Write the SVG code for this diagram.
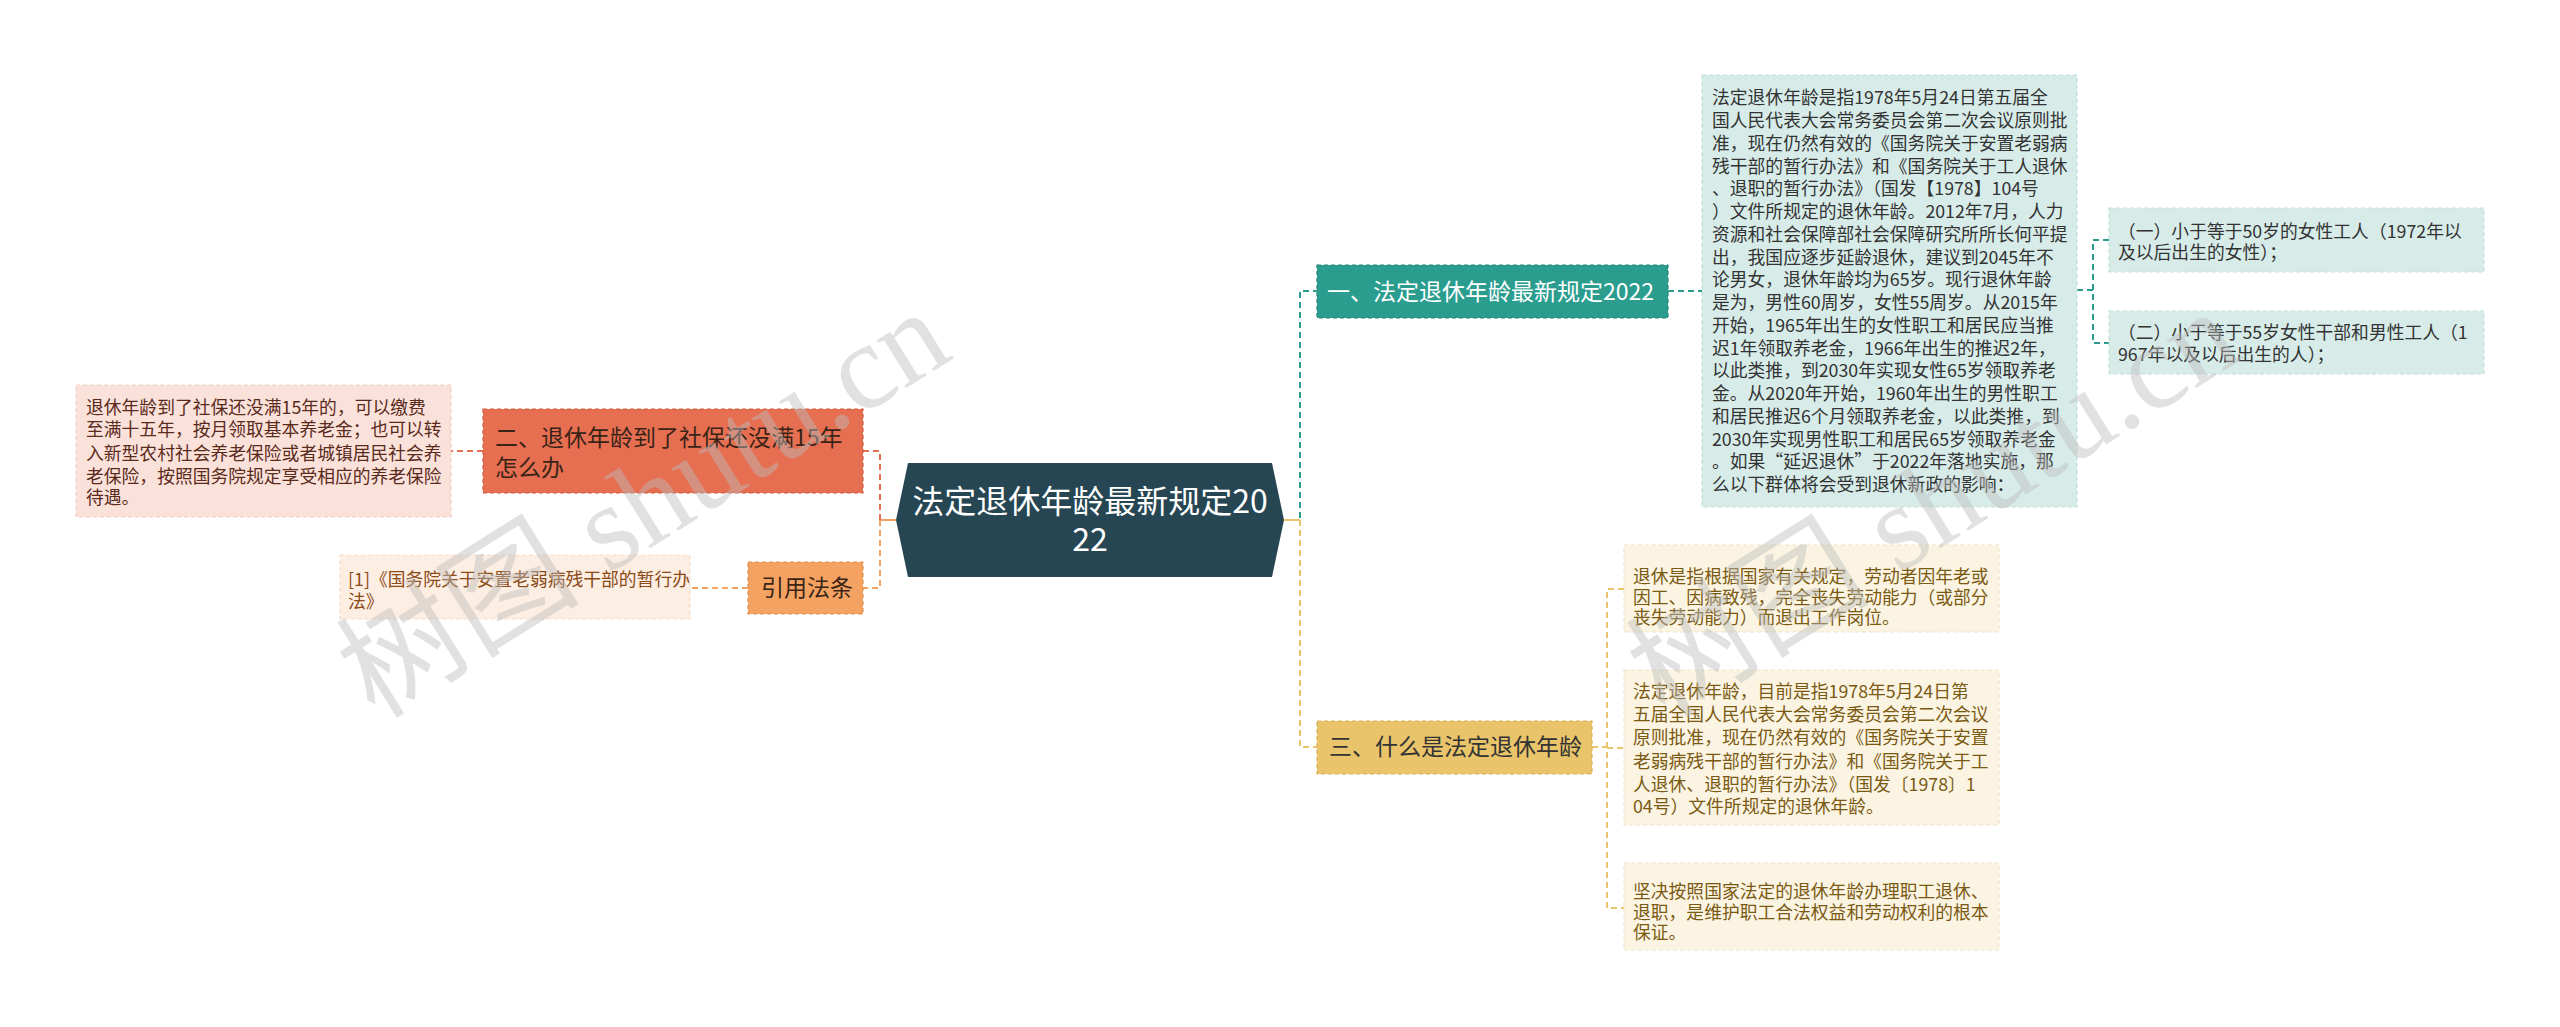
<svg xmlns="http://www.w3.org/2000/svg" width="2560" height="1027" viewBox="0 0 2560 1027">
<style>
text{font-family:"Noto Sans CJK SC","Noto Sans",sans-serif}
.s{font-size:17.8px}
.m{font-size:23px}
.c{stroke-width:2;fill:none;stroke-dasharray:6 4}
.box{stroke-width:1.2;stroke-dasharray:4 3}
.wm{font-size:122px;fill:#bdbdbd;opacity:0.45;font-family:"Liberation Serif","Noto Sans CJK SC",serif}
</style>
<rect width="2560" height="1027" fill="#ffffff"/>
<g id="connectors">
  <line x1="1284" y1="520" x2="1300" y2="520" stroke="#E9C46A" stroke-width="2"/>
  <polyline class="c" stroke="#2A9D8F" points="1300,518 1300,291 1317,291"/>
  <polyline class="c" stroke="#E9C46A" points="1300,520 1300,747 1317,747"/>
  <line x1="896" y1="520" x2="880" y2="520" stroke="#F4A261" stroke-width="2"/>
  <polyline class="c" stroke="#E76F51" points="880,520 880,451 863,451"/>
  <polyline class="c" stroke="#F4A261" points="880,520 880,588 863,588"/>
  <line class="c" stroke="#E76F51" x1="483" y1="451" x2="451" y2="451"/>
  <line class="c" stroke="#F4A261" x1="748" y1="588" x2="690" y2="588"/>
  <line class="c" stroke="#2A9D8F" x1="1668" y1="291" x2="1702" y2="291"/>
  <line class="c" stroke="#2A9D8F" x1="2077" y1="290" x2="2093" y2="290"/>
  <polyline class="c" stroke="#2A9D8F" points="2109,240 2093,240 2093,343 2109,343"/>
  <line class="c" stroke="#E9C46A" x1="1592" y1="747" x2="1607" y2="747"/>
  <polyline class="c" stroke="#E9C46A" points="1624,589 1607,589 1607,908 1624,908"/>
  <line class="c" stroke="#E9C46A" x1="1607" y1="748" x2="1624" y2="748"/>
</g>
<g id="root">
  <polygon points="908,463 1272,463 1284,520 1272,577 908,577 896,520" fill="#264653"/>
  <text x="1090" y="513" font-size="32" fill="#ffffff" text-anchor="middle">法定退休年龄最新规定20</text>
  <text x="1090" y="551" font-size="32" fill="#ffffff" text-anchor="middle">22</text>
</g>
<g id="branch1">
  <rect class="box" x="1317" y="265" width="351" height="53" fill="#2A9D8F" stroke="#238577"/>
  <text class="m" x="1327" y="300" fill="#ffffff">一、法定退休年龄最新规定2022</text>
</g>
<g id="branch1-detail">
  <rect class="box" x="1702" y="75" width="375" height="432" fill="#D7ECE9" stroke="#c2dfdb"/>
  <text class="s" fill="#333333">
    <tspan x="1712" y="104.3">法定退休年龄是指1978年5月24日第五届全</tspan>
    <tspan x="1712" y="127">国人民代表大会常务委员会第二次会议原则批</tspan>
    <tspan x="1712" y="149.8">准，现在仍然有效的《国务院关于安置老弱病</tspan>
    <tspan x="1712" y="172.5">残干部的暂行办法》和《国务院关于工人退休</tspan>
    <tspan x="1712" y="195.3">、退职的暂行办法》（国发【1978】104号</tspan>
    <tspan x="1712" y="218">）文件所规定的退休年龄。2012年7月，人力</tspan>
    <tspan x="1712" y="240.8">资源和社会保障部社会保障研究所所长何平提</tspan>
    <tspan x="1712" y="263.5">出，我国应逐步延龄退休，建议到2045年不</tspan>
    <tspan x="1712" y="286.3">论男女，退休年龄均为65岁。现行退休年龄</tspan>
    <tspan x="1712" y="309">是为，男性60周岁，女性55周岁。从2015年</tspan>
    <tspan x="1712" y="331.8">开始，1965年出生的女性职工和居民应当推</tspan>
    <tspan x="1712" y="354.5">迟1年领取养老金，1966年出生的推迟2年，</tspan>
    <tspan x="1712" y="377.3">以此类推，到2030年实现女性65岁领取养老</tspan>
    <tspan x="1712" y="400">金。从2020年开始，1960年出生的男性职工</tspan>
    <tspan x="1712" y="422.8">和居民推迟6个月领取养老金，以此类推，到</tspan>
    <tspan x="1712" y="445.5">2030年实现男性职工和居民65岁领取养老金</tspan>
    <tspan x="1712" y="468.3">。如果“延迟退休”于2022年落地实施，那</tspan>
    <tspan x="1712" y="491">么以下群体将会受到退休新政的影响：</tspan>
  </text>
</g>
<g id="branch1-item1">
  <rect class="box" x="2109" y="208" width="375" height="64" fill="#D7ECE9" stroke="#c2dfdb"/>
  <text class="s" fill="#333333"><tspan x="2118" y="238">（一）小于等于50岁的女性工人（1972年以</tspan><tspan x="2118" y="259">及以后出生的女性）；</tspan></text>
</g>
<g id="branch1-item2">
  <rect class="box" x="2109" y="311" width="375" height="63" fill="#D7ECE9" stroke="#c2dfdb"/>
  <text class="s" fill="#333333"><tspan x="2118" y="339">（二）小于等于55岁女性干部和男性工人（1</tspan><tspan x="2118" y="361">967年以及以后出生的人）；</tspan></text>
</g>
<g id="branch3">
  <rect class="box" x="1317" y="721" width="275" height="53" fill="#E9C46A" stroke="#d7b055"/>
  <text class="m" x="1329" y="755" fill="#333333">三、什么是法定退休年龄</text>
</g>
<g id="branch3-item1">
  <rect class="box" x="1624" y="545" width="375" height="87" fill="#FBF4E2" stroke="#efe4c8"/>
  <text class="s" fill="#7A5A12"><tspan x="1633" y="583">退休是指根据国家有关规定，劳动者因年老或</tspan><tspan x="1633" y="604">因工、因病致残，完全丧失劳动能力（或部分</tspan><tspan x="1633" y="624">丧失劳动能力）而退出工作岗位。</tspan></text>
</g>
<g id="branch3-item2">
  <rect class="box" x="1624" y="670" width="375" height="155" fill="#FBF4E2" stroke="#efe4c8"/>
  <text class="s" fill="#7A5A12">
    <tspan x="1633" y="698">法定退休年龄，目前是指1978年5月24日第</tspan>
    <tspan x="1633" y="721">五届全国人民代表大会常务委员会第二次会议</tspan>
    <tspan x="1633" y="744">原则批准，现在仍然有效的《国务院关于安置</tspan>
    <tspan x="1633" y="768">老弱病残干部的暂行办法》和《国务院关于工</tspan>
    <tspan x="1633" y="791">人退休、退职的暂行办法》（国发〔1978〕1</tspan>
    <tspan x="1633" y="813">04号）文件所规定的退休年龄。</tspan>
  </text>
</g>
<g id="branch3-item3">
  <rect class="box" x="1624" y="863" width="375" height="87" fill="#FBF4E2" stroke="#efe4c8"/>
  <text class="s" fill="#7A5A12"><tspan x="1633" y="898">坚决按照国家法定的退休年龄办理职工退休、</tspan><tspan x="1633" y="919">退职，是维护职工合法权益和劳动权利的根本</tspan><tspan x="1633" y="939">保证。</tspan></text>
</g>
<g id="branch2">
  <rect class="box" x="483" y="409" width="380" height="84" fill="#E76F51" stroke="#d35c3f"/>
  <text class="m" fill="#3a2418"><tspan x="495" y="446">二、退休年龄到了社保还没满15年</tspan><tspan x="495" y="476">怎么办</tspan></text>
</g>
<g id="branch2-detail">
  <rect class="box" x="76" y="385" width="375" height="132" fill="#FAE2DB" stroke="#f0cfc6"/>
  <text class="s" fill="#5a2a1a">
    <tspan x="86" y="414">退休年龄到了社保还没满15年的，可以缴费</tspan>
    <tspan x="86" y="436">至满十五年，按月领取基本养老金；也可以转</tspan>
    <tspan x="86" y="460">入新型农村社会养老保险或者城镇居民社会养</tspan>
    <tspan x="86" y="483">老保险，按照国务院规定享受相应的养老保险</tspan>
    <tspan x="86" y="504">待遇。</tspan>
  </text>
</g>
<g id="citation">
  <rect class="box" x="748" y="562" width="115" height="52" fill="#F4A261" stroke="#e08f4e"/>
  <text class="m" x="761" y="596" fill="#3a2418">引用法条</text>
</g>
<g id="citation-detail">
  <rect class="box" x="340" y="555" width="350" height="64" fill="#FDEEE3" stroke="#f5ddcc"/>
  <text class="s" fill="#8B4A16"><tspan x="348" y="586">[1]《国务院关于安置老弱病残干部的暂行办</tspan><tspan x="348" y="608">法》</tspan></text>
</g>
<g id="watermarks">
  <text class="wm" transform="translate(375,720) rotate(-32)">树图 shutu.cn</text>
  <text class="wm" transform="translate(1665,720) rotate(-32)">树图 shutu.cn</text>
</g>
</svg>
